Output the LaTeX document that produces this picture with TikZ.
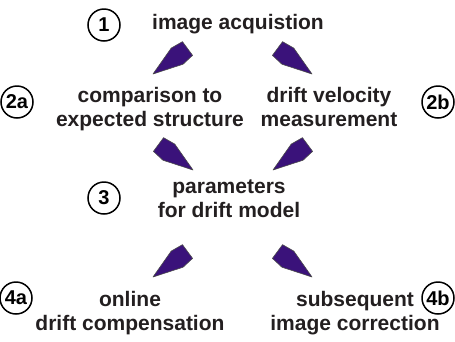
\documentclass[tikz,border=0pt]{standalone}
\usepackage{fontspec}
\setmainfont{Liberation Sans}
\usetikzlibrary{calc}
\definecolor{dartfill}{RGB}{58,18,122}
\definecolor{dartline}{RGB}{75,75,75}
\definecolor{txt}{RGB}{35,31,32}
\tikzset{
  stage/.style={font=\fontsize{21}{24}\selectfont\bfseries, text=txt, align=center, inner sep=0pt},
  num/.style={circle, draw=black, line width=1.5pt, minimum size=32pt, inner sep=0pt, font=\fontsize{20}{20}\selectfont\bfseries},
  dart/.style={fill=dartfill, draw=dartline, line width=0.6pt, line join=round}
}
% #1 = back end, #2 = tip
\newcommand\drawdart[2]{%
  \path (#2) -- (#1) coordinate[pos=0.7] (dm);
  \draw[dart] (#2) -- ($(dm)!10pt!90:(#1)$) -- ($(#1)!8.5pt!-90:(dm)$)
    -- ($(#1)!8.5pt!90:(dm)$) -- ($(dm)!10pt!-90:(#1)$) -- cycle;
}
\begin{document}
\begin{tikzpicture}[x=1pt,y=-1pt]
  \useasboundingbox (0,0) rectangle (455,341);
  % steps
  \node[stage] (acq) at (238,24) {image acquistion};
  \node[stage] (cmp) at (150,109) {comparison to\\expected structure};
  \node[stage] (vel) at (329,107) {drift velocity\\measurement};
  \node[stage] (par) at (229,199) {parameters\\for drift model};
  \node[stage] (onl) at (130,313) {online\\drift compensation};
  \node[stage] (sub) at (355,313) {subsequent\\image correction};
  % numbers
  \node[num] (n1) at (104,25) {1};
  \node[num] (n2a) at (17,102) {2a};
  \node[num] (n2b) at (438,102) {2b};
  \node[num] (n3) at (104,198) {3};
  \node[num] (n4a) at (16,298) {4a};
  \node[num] (n4b) at (438,298) {4b};
  % arrows
  \coordinate (acqL) at (187.5,48.5);  \coordinate (cmpT) at (153,74);
  \coordinate (acqR) at (277.5,48.5);  \coordinate (velT) at (312,74);
  \coordinate (cmpB) at (158.5,144.5); \coordinate (parL) at (193,170);
  \coordinate (velB) at (307.5,144.5); \coordinate (parR) at (273,170);
  \coordinate (parBL) at (187.5,251.5); \coordinate (onlT) at (153,277);
  \coordinate (parBR) at (277.5,251.5); \coordinate (subT) at (312,277);
  \foreach \b/\t in {acqL/cmpT, acqR/velT, cmpB/parL, velB/parR, parBL/onlT, parBR/subT} {
    \drawdart{\b}{\t}
  }
\end{tikzpicture}
\end{document}
